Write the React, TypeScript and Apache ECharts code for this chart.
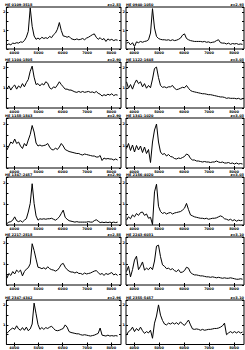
import React, { useEffect, useRef } from "react";
import * as echarts from "echarts";

// observed wavelength grid (Angstrom)
const wave = [
  3700, 3780, 3860, 3940, 4020, 4100, 4180, 4260, 4340, 4420, 4500, 4580, 4660, 4740, 4820, 4900,
  4980, 5060, 5140, 5220, 5300, 5380, 5460, 5540, 5620, 5700, 5780, 5860, 5940, 6020, 6100, 6180,
  6260, 6340, 6420, 6500, 6580, 6660, 6740, 6820, 6900, 6980, 7060, 7140, 7220, 7300, 7380, 7460,
  7540, 7620, 7700, 7780, 7860, 7940, 8020, 8100, 8180, 8260, 8340,
];

const xTicks = [4000, 5000, 6000, 7000, 8000];

const names = [
  "HE 0109-3518", "HE 0940-1050", "HE 1104-1805", "HE 1122-1648", "HE 1158-1843", "HE 1341-1020",
  "HE 1347-2457", "HE 2156-4020", "HE 2217-2818", "HE 2243-6031", "HE 2347-4342", "HE 2355-5457",
];
const redshifts = ["z=2.83", "z=2.93", "z=2.90", "z=3.03", "z=2.90", "z=3.03", "z=2.90", "z=3.03", "z=2.88", "z=3.10", "z=2.96", "z=3.10"];

const flux1 = [10, 12, 10, 14, 13, 15, 14, 17, 16, 20, 28, 42, 98, 54, 31, 23, 26, 23, 28, 25, 27, 25, 30, 27, 34, 38, 47, 63, 44, 31, 30, 28, 30, 25, 23, 22, 24, 22, 23, 25, 22, 26, 28, 31, 34, 36, 28, 23, 27, 22, 25, 18, 24, 21, 23, 20, 22, 21];
const flux2 = [14, 16, 10, 15, 6, 17, 15, 18, 16, 18, 19, 22, 38, 96, 50, 30, 25, 23, 22, 22, 21, 22, 20, 22, 20, 21, 23, 26, 33, 36, 25, 22, 20, 19, 18, 18, 18, 18, 17, 18, 16, 17, 15, 16, 17, 20, 22, 15, 14, 14, 12, 14, 11, 13, 12, 13, 11, 12, 11];
const flux3 = [41, 48, 39, 46, 50, 41, 48, 44, 53, 46, 55, 62, 80, 91, 67, 51, 53, 48, 53, 50, 57, 54, 44, 41, 46, 44, 50, 57, 51, 46, 41, 41, 39, 39, 37, 35, 34, 36, 34, 36, 34, 35, 36, 34, 35, 33, 36, 32, 30, 26, 29, 27, 30, 28, 31, 27, 29, 28];
const flux4 = [57, 43, 51, 41, 53, 61, 53, 57, 46, 53, 43, 49, 44, 63, 86, 89, 66, 49, 45, 46, 44, 46, 46, 49, 43, 40, 41, 43, 45, 44, 49, 43, 38, 36, 35, 34, 33, 32, 31, 31, 30, 29, 29, 28, 27, 26, 25, 24, 24, 23, 21, 22, 21, 21, 21, 20, 21, 19, 20];
const flux5 = [36, 44, 52, 49, 58, 49, 52, 44, 39, 49, 44, 56, 67, 85, 72, 50, 44, 46, 44, 45, 46, 49, 42, 37, 36, 40, 37, 42, 49, 44, 37, 35, 33, 32, 31, 30, 29, 29, 27, 26, 28, 27, 26, 25, 24, 24, 22, 22, 25, 15, 20, 18, 19, 18, 18, 16, 18, 16];
const flux6 = [39, 49, 35, 46, 32, 45, 36, 44, 31, 42, 29, 37, 11, 52, 76, 88, 52, 32, 27, 29, 24, 27, 23, 22, 19, 18, 20, 19, 21, 23, 28, 26, 19, 16, 16, 14, 14, 13, 12, 13, 12, 12, 11, 12, 12, 14, 12, 11, 12, 10, 10, 11, 9, 10, 8, 10, 8, 9, 8];
const flux7 = [3, 6, 7, 10, 17, 9, 7, 9, 6, 10, 13, 27, 45, 86, 45, 19, 10, 13, 12, 13, 12, 13, 13, 14, 12, 10, 13, 17, 24, 31, 16, 12, 9, 8, 7, 6, 7, 6, 6, 6, 6, 6, 7, 6, 6, 9, 11, 8, 5, 6, 5, 6, 5, 6, 5, 6, 5, 6];
const flux8 = [10, 17, 13, 21, 17, 24, 20, 26, 27, 20, 23, 14, 16, 1, 69, 85, 39, 28, 24, 26, 23, 25, 26, 23, 25, 26, 27, 28, 31, 35, 45, 32, 21, 19, 17, 16, 15, 14, 14, 13, 14, 12, 13, 14, 14, 15, 17, 19, 17, 13, 12, 10, 12, 9, 11, 8, 10, 9, 10];
const flux9 = [14, 24, 20, 28, 23, 31, 27, 31, 19, 28, 33, 36, 44, 86, 72, 54, 37, 36, 34, 36, 33, 38, 34, 32, 31, 29, 31, 36, 43, 45, 37, 32, 29, 27, 27, 25, 27, 24, 24, 22, 25, 23, 24, 25, 27, 29, 30, 26, 22, 24, 20, 24, 22, 24, 26, 21, 23, 20];
const flux10 = [28, 39, 17, 32, 52, 60, 32, 39, 48, 31, 35, 32, 37, 32, 50, 81, 83, 59, 42, 39, 34, 35, 32, 34, 30, 28, 32, 26, 27, 30, 37, 35, 26, 23, 21, 21, 20, 19, 19, 18, 17, 17, 16, 17, 16, 15, 16, 15, 14, 15, 14, 14, 15, 14, 13, 12, 12, 13, 12];
const flux11 = [25, 30, 34, 37, 34, 42, 35, 32, 38, 32, 39, 31, 35, 46, 93, 69, 45, 34, 38, 34, 38, 36, 39, 41, 36, 32, 31, 32, 34, 36, 44, 39, 29, 27, 26, 25, 24, 24, 22, 21, 22, 21, 20, 19, 20, 21, 23, 25, 37, 21, 20, 19, 21, 19, 20, 19, 20, 19];
const flux12 = [21, 29, 32, 39, 29, 36, 31, 39, 31, 25, 29, 26, 32, 14, 48, 64, 89, 66, 54, 46, 44, 48, 46, 49, 46, 49, 45, 51, 46, 43, 49, 55, 44, 35, 34, 35, 34, 32, 34, 32, 33, 34, 34, 35, 36, 36, 37, 39, 42, 48, 22, 26, 29, 26, 29, 26, 29, 26, 28];

const fluxes = [flux1, flux2, flux3, flux4, flux5, flux6, flux7, flux8, flux9, flux10, flux11, flux12];

export default function App() {
  const ref = useRef<HTMLDivElement>(null);
  useEffect(() => {
    if (!ref.current) return;
    const chart = echarts.init(ref.current, null, { renderer: "svg" });
    const rowTop = [7, 62, 118, 177, 237, 300];
    const rowBot = [49, 108, 168, 225, 285, 347];
    const grids: any[] = [];
    const xAxes: any[] = [];
    const yAxes: any[] = [];
    const series: any[] = [];
    const graphic: any[] = [];
    const font = "DejaVu Sans";
    fluxes.forEach((f, k) => {
      const col = k % 2;
      const row = Math.floor(k / 2);
      const left = col ? 126 : 5;
      const width = col ? 118 : 116;
      const top = rowTop[row];
      const height = rowBot[row] - rowTop[row];
      grids.push({ left, top, width, height, show: true, borderColor: "#000", borderWidth: 1, backgroundColor: "transparent" });
      const xBase = {
        type: "value", gridIndex: k, min: 3680, max: 8400,
        axisLine: { show: false }, splitLine: { show: false },
        axisTick: { show: true, inside: true, length: 2, lineStyle: { color: "#000", width: 1 }, customValues: xTicks },
      };
      xAxes.push({
        ...xBase, position: "bottom",
        axisLabel: {
          show: true, customValues: xTicks, fontSize: 3.5, fontWeight: "bold", color: "#000", margin: 1.5, fontFamily: font,
          formatter: (v: number) => String(v),
        },
      });
      xAxes.push({ ...xBase, position: "top", axisLabel: { show: false } });
      const yBase = {
        type: "value", gridIndex: k, min: 0, max: 100, interval: 22,
        axisLine: { show: false }, splitLine: { show: false },
        axisTick: { show: true, inside: true, length: 2, lineStyle: { color: "#000", width: 1 } },
      };
      yAxes.push({
        ...yBase, position: "left",
        axisLabel: {
          show: true, fontSize: 3.5, fontWeight: "bold", color: "#000", margin: 1, fontFamily: font,
          formatter: (v: number) => (v > 0 && v % 44 === 0 ? String(v / 44) : ""),
        },
      });
      yAxes.push({ ...yBase, position: "right", axisLabel: { show: false } });
      series.push({
        type: "line", xAxisIndex: 2 * k, yAxisIndex: 2 * k, showSymbol: false, silent: true,
        lineStyle: { color: "#000", width: 1 },
        data: f.map((v, i) => [wave[i], v]),
      });
      graphic.push({
        type: "text", left: left, top: top - 4.5,
        style: { text: names[k], fontSize: 3.5, fontWeight: "bold", fill: "#000", fontFamily: font },
      });
      graphic.push({
        type: "text", right: 245 - (left + width), top: top - 4.5,
        style: { text: redshifts[k], fontSize: 3.5, fontWeight: "bold", fill: "#000", fontFamily: font, align: "right" },
      });
    });
    chart.setOption({
      animation: false,
      backgroundColor: "#fff",
      grid: grids,
      xAxis: xAxes,
      yAxis: yAxes,
      series,
      graphic,
    });
    return () => chart.dispose();
  }, []);
  return <div ref={ref} style={{ position: "fixed", left: 0, top: 0, width: 245, height: 350 }} />;
}
